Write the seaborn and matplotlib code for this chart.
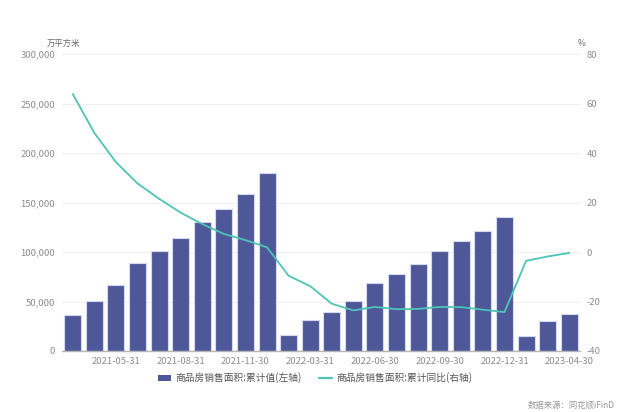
import matplotlib
matplotlib.use("Agg")
import matplotlib.pyplot as plt
import seaborn as sns
import pandas as pd
from matplotlib.patches import Patch
from matplotlib.lines import Line2D

dates = ["2021-03-31", "2021-04-30", "2021-05-31", "2021-06-30", "2021-07-31", "2021-08-31",
         "2021-09-30", "2021-10-31", "2021-11-30", "2021-12-31",
         "2022-02-28", "2022-03-31", "2022-04-30", "2022-05-31", "2022-06-30", "2022-07-31",
         "2022-08-31", "2022-09-30", "2022-10-31", "2022-11-30", "2022-12-31",
         "2023-02-28", "2023-03-31", "2023-04-30"]
area = [36007, 50317, 66640, 88635, 101240, 114193, 130332, 143041, 158185, 179433,
        15703, 31046, 39768, 50738, 68923, 78178, 87890, 101422, 111179, 121250, 135837,
        15133, 29946, 37636]
yoy = [63.8, 48.1, 36.3, 27.7, 21.5, 15.9, 11.3, 7.3, 4.8, 1.9,
       -9.6, -13.8, -20.9, -23.6, -22.2, -23.1, -23.0, -22.2, -22.3, -23.3, -24.3,
       -3.6, -1.8, -0.4]
left_ticks = [0, 50000, 100000, 150000, 200000, 250000, 300000]
right_ticks = [-40, -20, 0, 20, 40, 60, 80]
bar_name = "商品房销售面积:累计值(左轴)"
line_name = "商品房销售面积:累计同比(右轴)"
left_unit = "万平方米"
right_unit = "%"
source = "数据来源：同花顺iFinD"

df = pd.DataFrame({"date": dates, "area": area, "yoy": yoy})

sns.set_theme(style="white")
plt.rcParams["font.family"] = ["Noto Sans CJK SC", "DejaVu Sans"]

bar_color = "#4E5899"
line_color = "#4CC4B6"
txt = "#8c8c8c"

fig = plt.figure(figsize=(6.35, 4.12), dpi=100)
ax = fig.add_axes([62 / 635, 61 / 412, 518 / 635, 297 / 412])
sns.barplot(data=df, x="date", y="area", ax=ax, color=bar_color, width=0.79,
            edgecolor="#d6d9ee", linewidth=0.8, saturation=1)
ax2 = ax.twinx()
sns.lineplot(data=df, x="date", y="yoy", ax=ax2, color=line_color, linewidth=1.3, sort=False)

ax.set_xlim(-0.5, len(dates) - 0.5)
ax.set_ylim(0, 300000)
ax2.set_ylim(-40, 80)
ax.set_yticks(left_ticks)
ax.set_yticklabels([f"{v:,}" for v in left_ticks])
ax2.set_yticks(right_ticks)
ax2.set_yticklabels([str(v) for v in right_ticks])
xt = list(range(2, len(dates), 3))
ax.set_xticks(xt)
ax.set_xticklabels([dates[i] for i in xt])

for a in (ax, ax2):
    for s in a.spines.values():
        s.set_visible(False)
    a.set_xlabel("")
    a.set_ylabel("")
ax.spines["bottom"].set_visible(True)
ax.spines["bottom"].set_color("#b5b5b5")
ax.spines["bottom"].set_linewidth(1)
ax.grid(axis="y", color="#eeeeee", linewidth=0.8)
ax.set_axisbelow(True)
ax2.grid(False)

ax.tick_params(axis="y", length=0, pad=5, labelsize=6.8, labelcolor=txt)
ax.tick_params(axis="x", length=0, pad=4, labelsize=6.8, labelcolor=txt)
ax2.tick_params(axis="y", length=0, pad=5, labelsize=6.8, labelcolor=txt)

fig.text(63 / 635, 1 - 43 / 412, left_unit, ha="center", va="center", fontsize=6, color="#666666")
fig.text(581 / 635, 1 - 43 / 412, right_unit, ha="center", va="center", fontsize=6, color="#666666")

handles = [Patch(facecolor=bar_color, edgecolor="none"),
           Line2D([0], [0], color=line_color, linewidth=1.6)]
fig.legend(handles, [bar_name, line_name], loc="center", bbox_to_anchor=(315 / 635, 1 - 378 / 412),
           ncol=2, frameon=False, fontsize=7, labelcolor="#555555", handlelength=1.4,
           handleheight=0.6, columnspacing=1.8, handletextpad=0.4)

fig.text(615 / 635, 1 - 405 / 412, source, ha="right", va="center", fontsize=6, color="#999999")

fig.savefig("out.png", dpi=100)
